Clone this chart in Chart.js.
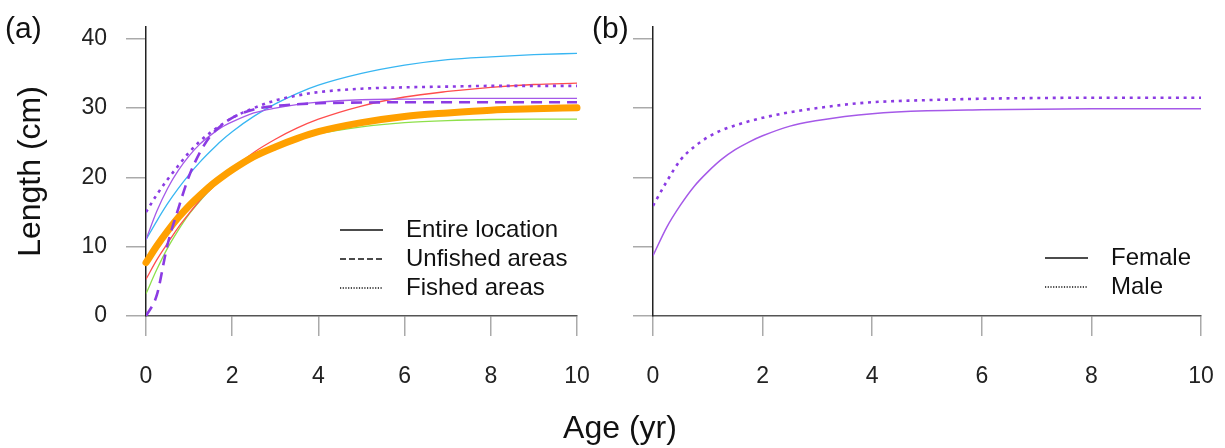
<!DOCTYPE html>
<html>
<head>
<meta charset="utf-8">
<script src="https://cdn.jsdelivr.net/npm/chart.js@4.4.1/dist/chart.umd.min.js"></script>
<style>
    html, body { margin: 0; padding: 0; background: #fff; }
    #wrap { position: relative; width: 1225px; height: 448px; overflow: hidden; }
    #chartA { position: absolute; left: 0; top: 0; }
    #chartB { position: absolute; left: 590px; top: 0; }
    #ageTitle {
        position: absolute; left: 520px; width: 200px; top: 409px;
        text-align: center; line-height: 40px; color: #111;
        font: 32px "Liberation Sans", Arial, sans-serif;
    }
</style>
</head>
<body>
<div id="wrap">
    <canvas id="chartA" width="590" height="448"></canvas>
    <canvas id="chartB" width="635" height="448"></canvas>
    <div id="ageTitle">Age (yr)</div>
</div>
<script>
    // 横坐标（年龄）与刻度
    var ages = [0, 0.25, 0.5, 0.75, 1, 1.25, 1.5, 1.75, 2, 2.5, 3, 3.5, 4, 5, 6, 7, 8, 9, 10];
    var xTicks = [0, 2, 4, 6, 8, 10];
    var yTicks = [0, 10, 20, 30, 40];

    // (a) 各曲线的体长 (cm)
    var blueEntire   = [11.0, 13.7, 16.2, 18.4, 20.4, 22.2, 23.8, 25.3, 26.6, 28.8, 30.6, 32.1, 33.3, 35.0, 36.2, 37.0, 37.4, 37.7, 37.9];
    var redEntire    = [5.3, 8.1, 10.5, 12.8, 14.8, 16.7, 18.3, 19.85, 21.2, 23.6, 25.5, 27.1, 28.4, 30.3, 31.6, 32.4, 33.0, 33.4, 33.6];
    var greenEntire  = [3.2, 6.7, 9.8, 12.4, 14.7, 16.6, 18.3, 19.7, 21.0, 22.9, 24.4, 25.5, 26.3, 27.3, 27.9, 28.2, 28.35, 28.4, 28.4];
    var purpleEntire = [11.0, 15.1, 18.4, 21.0, 23.1, 24.8, 26.1, 27.2, 28.0, 29.3, 30.0, 30.5, 30.85, 31.2, 31.3, 31.4, 31.4, 31.4, 31.4];
    var purpleUnfished = [0, 3.0, 10.3, 15.5, 20.2, 23.6, 26.0, 27.5, 28.6, 29.8, 30.3, 30.55, 30.7, 30.8, 30.85, 30.85, 30.85, 30.85, 30.85];
    var purpleFished = [15.0, 17.5, 19.7, 21.7, 23.6, 25.2, 26.5, 27.6, 28.6, 30.0, 31.1, 31.8, 32.3, 32.8, 33.0, 33.1, 33.2, 33.2, 33.2];
    var orangeAll    = [7.7, 10.1, 12.25, 14.2, 15.9, 17.4, 18.8, 20.0, 21.1, 23.0, 24.4, 25.6, 26.6, 27.9, 28.8, 29.3, 29.7, 29.9, 30.05];

    // (b) 雌雄
    var female = [8.7, 12.8, 16.0, 18.7, 20.8, 22.6, 24.0, 25.1, 26.0, 27.4, 28.2, 28.8, 29.2, 29.6, 29.75, 29.85, 29.9, 29.9, 29.9];
    var male   = [15.9, 19.4, 22.5, 24.4, 25.8, 26.8, 27.5, 28.1, 28.6, 29.4, 30.0, 30.5, 30.85, 31.15, 31.35, 31.45, 31.5, 31.5, 31.5];

    var FONT = '"Liberation Sans", Arial, sans-serif';
    var DASHED = [11, 7];
    var DOTTED = [3, 4.7];

    function toPoints(vals) {
        return ages.map(function (a, i) { return {x: a, y: vals[i]}; });
    }

    function line(vals, color, width, extra) {
        var ds = {
            data: toPoints(vals),
            borderColor: color,
            borderWidth: width,
            pointRadius: 0,
            fill: false,
            cubicInterpolationMode: 'monotone'
        };
        for (var k in extra) ds[k] = extra[k];
        return ds;
    }

    // 坐标轴公共配置
    function scales(yWidth, showYLabels, yTitle) {
        return {
            x: {
                type: 'linear', min: 0, max: 10,
                afterBuildTicks: function (s) { s.ticks = xTicks.map(function (v) { return {value: v}; }); },
                afterFit: function (s) { s.height = 132; s.paddingLeft = 0; s.paddingRight = 0; },
                grid: {drawOnChartArea: false, drawTicks: true, tickLength: 20, color: '#aaa', lineWidth: 1.5},
                border: {display: true, color: '#555', width: 1.5},
                ticks: {font: {family: FONT, size: 23}, color: '#222', padding: 27, maxRotation: 0}
            },
            y: {
                type: 'linear', min: 0, max: 41.7,
                afterBuildTicks: function (s) { s.ticks = yTicks.map(function (v) { return {value: v}; }); },
                afterFit: function (s) { s.width = yWidth; s.paddingTop = 0; s.paddingBottom = 0; },
                grid: {drawOnChartArea: false, drawTicks: true, tickLength: 20, color: '#aaa', lineWidth: 1.5},
                border: {display: true, color: '#222', width: 1.5},
                ticks: {
                    font: {family: FONT, size: 23}, color: '#222', padding: 19,
                    callback: function (v) { return showYLabels ? v : ''; }
                },
                title: {
                    display: !!yTitle, text: yTitle || '', color: '#111',
                    font: {family: FONT, size: 32}, padding: {top: 12, bottom: 0}
                }
            }
        };
    }

    // 图例与面板标签，画在 canvas 上
    function overlay(label, labelX, legendX, entries) {
        return {
            id: 'overlay',
            afterDraw: function (chart) {
                var ctx = chart.ctx;
                ctx.save();
                ctx.fillStyle = '#111';
                ctx.textBaseline = 'middle';
                ctx.font = '30px ' + FONT;
                ctx.fillText(label, labelX, 30);
                ctx.font = '24px ' + FONT;
                entries.forEach(function (e) {
                    ctx.beginPath();
                    ctx.strokeStyle = '#111';
                    ctx.lineWidth = 1.3;
                    ctx.setLineDash(e.dash);
                    ctx.moveTo(legendX, e.y);
                    ctx.lineTo(legendX + 43, e.y);
                    ctx.stroke();
                    ctx.fillText(e.text, legendX + 66, e.y);
                });
                ctx.restore();
            }
        };
    }

    Chart.defaults.font.family = FONT;

    /******************** (a) ********************/
    new Chart(document.getElementById('chartA'), {
        type: 'line',
        data: {
            datasets: [
                line(purpleUnfished, '#8B3BE3', 2.6, {borderDash: DASHED, order: 0}),
                line(purpleFished, '#8B3BE3', 2.6, {borderDash: DOTTED, order: 1}),
                line(orangeAll, '#FFA000', 7, {borderCapStyle: 'round', clip: false, order: 2}),
                line(purpleEntire, '#A559E8', 1.3, {order: 3}),
                line(blueEntire, '#38B6F2', 1.3, {order: 4}),
                line(redEntire, '#FF4D4D', 1.3, {order: 5}),
                line(greenEntire, '#8EE04A', 1.3, {order: 6})
            ]
        },
        options: {
            responsive: false,
            animation: false,
            layout: {padding: {left: 0, top: 27, right: 13, bottom: 0}},
            plugins: {legend: {display: false}, tooltip: {enabled: false}},
            scales: scales(146, true, 'Length (cm)')
        },
        plugins: [overlay('(a)', 5, 340, [
            {text: 'Entire location', y: 230, dash: []},
            {text: 'Unfished areas', y: 259, dash: [6, 3]},
            {text: 'Fished areas', y: 288, dash: [1.2, 1.5]}
        ])]
    });

    /******************** (b) ********************/
    new Chart(document.getElementById('chartB'), {
        type: 'line',
        data: {
            datasets: [
                line(male, '#8B3BE3', 2.6, {borderDash: DOTTED, order: 0}),
                line(female, '#A559E8', 1.5, {order: 1})
            ]
        },
        options: {
            responsive: false,
            animation: false,
            layout: {padding: {left: 0, top: 27, right: 24, bottom: 0}},
            plugins: {legend: {display: false}, tooltip: {enabled: false}},
            scales: scales(63, false, null)
        },
        plugins: [overlay('(b)', 2, 455, [
            {text: 'Female', y: 258, dash: []},
            {text: 'Male', y: 287, dash: [1.2, 1.5]}
        ])]
    });
</script>
</body>
</html>
